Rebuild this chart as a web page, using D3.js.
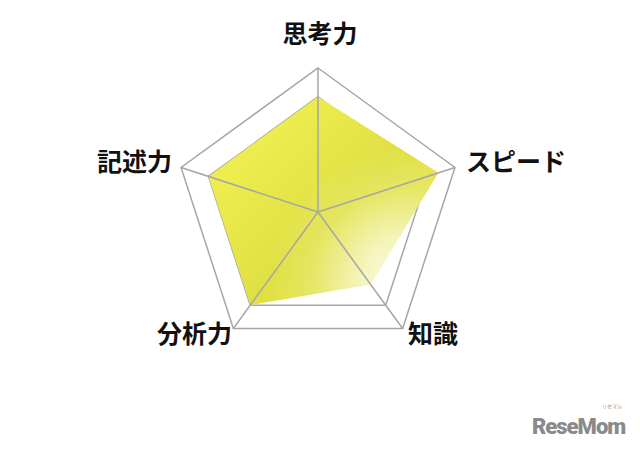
<!DOCTYPE html>
<html>
<head>
<meta charset="utf-8">
<script src="https://cdn.jsdelivr.net/npm/d3@7"></script>
<style>
html,body{margin:0;padding:0;background:#fff;}
svg{display:block;}
</style>
</head>
<body>
<svg id="chart" width="640" height="449"></svg>
<script>
const categories = ["思考力", "スピード", "知識", "分析力", "記述力"];
const values = [4.0, 4.4, 3.1, 4.0, 4.0];
const ringLevels = [4, 5];
const maxValue = 5;

const svg = d3.select("#chart");
const cx = 318, cy = 212, R = 144;
const r = d3.scaleLinear().domain([0, maxValue]).range([0, R]);
const angle = d3.scaleLinear().domain([0, categories.length]).range([0, 2 * Math.PI]);
const pt = (i, v) => [cx + r(v) * Math.sin(angle(i)), cy - r(v) * Math.cos(angle(i))];

const defs = svg.append("defs");
const lg = defs.append("linearGradient").attr("id", "lg")
  .attr("gradientUnits", "userSpaceOnUse")
  .attr("x1", 230).attr("y1", 110).attr("x2", 420).attr("y2", 300);
lg.append("stop").attr("offset", 0).attr("stop-color", "#f2f254");
lg.append("stop").attr("offset", 0.55).attr("stop-color", "#e0e044");
lg.append("stop").attr("offset", 1).attr("stop-color", "#e6e650");
const rg = defs.append("radialGradient").attr("id", "rg")
  .attr("gradientUnits", "userSpaceOnUse")
  .attr("cx", 405).attr("cy", 282).attr("r", 135);
rg.append("stop").attr("offset", 0).attr("stop-color", "#ffffff").attr("stop-opacity", 0.95);
rg.append("stop").attr("offset", 0.35).attr("stop-color", "#ffffff").attr("stop-opacity", 0.6);
rg.append("stop").attr("offset", 0.7).attr("stop-color", "#ffffff").attr("stop-opacity", 0.15);
rg.append("stop").attr("offset", 1).attr("stop-color", "#ffffff").attr("stop-opacity", 0);

const line = d3.line();

// rings
svg.append("g").selectAll("path").data(ringLevels).join("path")
  .attr("d", lv => line(categories.map((c, i) => pt(i, lv))) + "Z")
  .attr("fill", "none").attr("stroke", "#a6a6a6").attr("stroke-width", 1.5);

// data polygon
const poly = line(values.map((v, i) => pt(i, v))) + "Z";
svg.append("path").attr("d", poly).attr("fill", "url(#lg)");
svg.append("path").attr("d", poly).attr("fill", "url(#rg)");

// spokes
svg.append("g").selectAll("line").data(categories).join("line")
  .attr("x1", cx).attr("y1", cy)
  .attr("x2", (c, i) => pt(i, maxValue)[0])
  .attr("y2", (c, i) => pt(i, maxValue)[1])
  .attr("stroke", "#a6a6a6").attr("stroke-width", 1.5);

// labels
const labelPos = [
  {x: 320, y: 32, anchor: "middle"},
  {x: 466, y: 160, anchor: "start"},
  {x: 408, y: 332, anchor: "start"},
  {x: 232, y: 332, anchor: "end"},
  {x: 172, y: 160, anchor: "end"}
];
svg.append("g").selectAll("text").data(categories).join("text")
  .attr("x", (c, i) => labelPos[i].x)
  .attr("y", (c, i) => labelPos[i].y)
  .attr("text-anchor", (c, i) => labelPos[i].anchor)
  .attr("dominant-baseline", "central")
  .attr("font-family", "'Noto Sans CJK JP', 'Noto Sans', sans-serif")
  .attr("font-weight", 700)
  .attr("font-size", 25)
  .attr("fill", "#111")
  .text(d => d);

// watermark
svg.append("text").attr("x", 532).attr("y", 434)
  .attr("font-family", "Roboto, 'Liberation Sans', sans-serif")
  .attr("font-weight", 900).attr("font-size", 22)
  .attr("letter-spacing", -1)
  .attr("fill", "#8a8a8a").text("ReseMom");
svg.append("text").attr("x", 612).attr("y", 408)
  .attr("text-anchor", "middle")
  .attr("font-family", "'Noto Sans CJK JP', sans-serif")
  .attr("font-size", 5).attr("fill", "#8a8a8a").text("リセマム");
</script>
</body>
</html>
